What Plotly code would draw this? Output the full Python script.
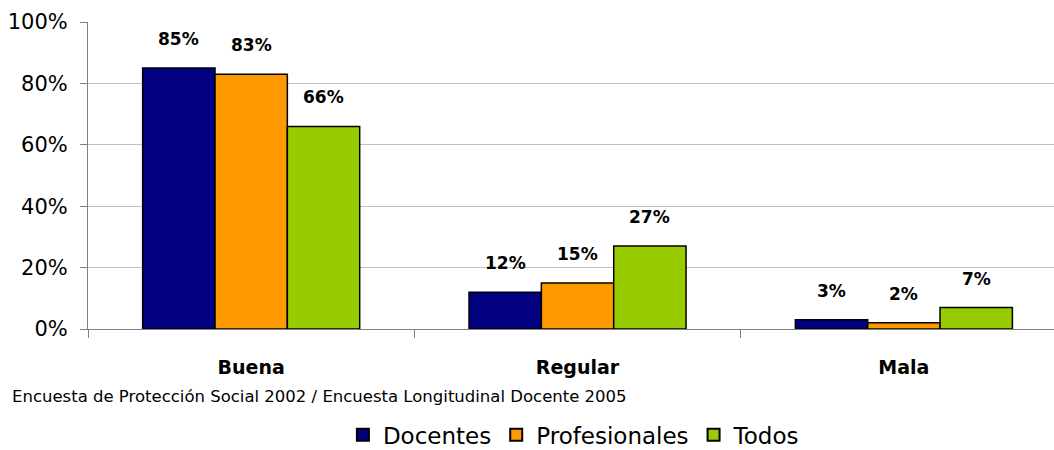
import plotly.graph_objects as go

categories = ["Buena", "Regular", "Mala"]
series_names = ["Docentes", "Profesionales", "Todos"]
docentes = [85, 12, 3]
profesionales = [83, 15, 2]
todos = [66, 27, 7]
y_ticks = [0, 20, 40, 60, 80, 100]
source_text = "Encuesta de Protección Social 2002 / Encuesta Longitudinal Docente 2005"

values = [docentes, profesionales, todos]
colors = ["#000080", "#FF9900", "#99CC00"]

BARGAP = 0.335
bar_w = (1 - BARGAP) / 3

fig = go.Figure()
for name, vals, col in zip(series_names, values, colors):
    fig.add_trace(go.Bar(
        name=name, x=list(range(len(categories))), y=vals,
        marker=dict(color=col, line=dict(color="#000000", width=1.5)),
    ))

annotations = []
for si, vals in enumerate(values):
    off = (si - 1) * bar_w
    for ci, v in enumerate(vals):
        annotations.append(dict(
            x=ci + off, y=v, xref="x", yref="y", text=f"<b>{v}%</b>",
            showarrow=False, yanchor="middle", yshift=29,
            font=dict(family="DejaVu Sans", size=17, color="#000000"),
        ))

annotations.append(dict(
    x=(629 - 88) / (1054 - 88), y=-0.22, xref="paper", yref="paper", text=source_text,
    showarrow=False, xanchor="right", yanchor="middle",
    font=dict(family="DejaVu Sans", size=16.5, color="#000000"),
))

fig.update_layout(
    width=1054, height=450,
    margin=dict(l=88, r=0, t=22, b=121, autoexpand=False),
    paper_bgcolor="white", plot_bgcolor="white",
    barmode="group", bargap=BARGAP, bargroupgap=0,
    showlegend=True,
    legend=dict(orientation="h", x=0.503, xanchor="center", y=-0.345, yanchor="middle",
                font=dict(family="DejaVu Sans", size=23, color="#000000"),
                itemsizing="constant", itemwidth=30, tracegroupgap=0),
    annotations=annotations,
    xaxis=dict(
        range=[-0.5, 2.46], tickmode="array", tickvals=list(range(len(categories))),
        ticktext=[f"<b>{c}</b>" for c in categories],
        tickfont=dict(family="DejaVu Sans", size=19, color="#000000"),
        ticklabelstandoff=21, automargin=False,
        showline=True, linecolor="#808080", linewidth=1,
        ticks="", showgrid=False, zeroline=False,
    ),
    yaxis=dict(
        range=[0, 100], tickmode="array", tickvals=y_ticks,
        ticktext=[f"{t}%" for t in y_ticks], automargin=False,
        tickfont=dict(family="DejaVu Sans", size=21, color="#000000"),
        ticklabelstandoff=8,
        showline=True, linecolor="#808080", linewidth=1,
        ticks="outside", ticklen=7, tickcolor="#808080",
        showgrid=True, gridcolor="#C0C0C0", gridwidth=1, zeroline=False,
    ),
    xaxis2=dict(
        overlaying="x", matches="x", tickmode="array", tickvals=[-0.5, 0.5, 1.5],
        showticklabels=False, ticks="outside", ticklen=8, tickcolor="#808080",
        side="bottom", showgrid=False, anchor="y", showline=False, automargin=False,
    ),
)

fig.add_trace(go.Scatter(x=[0], y=[0], xaxis="x2", mode="markers",
                         marker=dict(opacity=0), showlegend=False, hoverinfo="skip"))

fig.write_html("out.html", config={"displayModeBar": False},
               post_script="document.body.style.margin='0';document.body.style.overflow='hidden';")
